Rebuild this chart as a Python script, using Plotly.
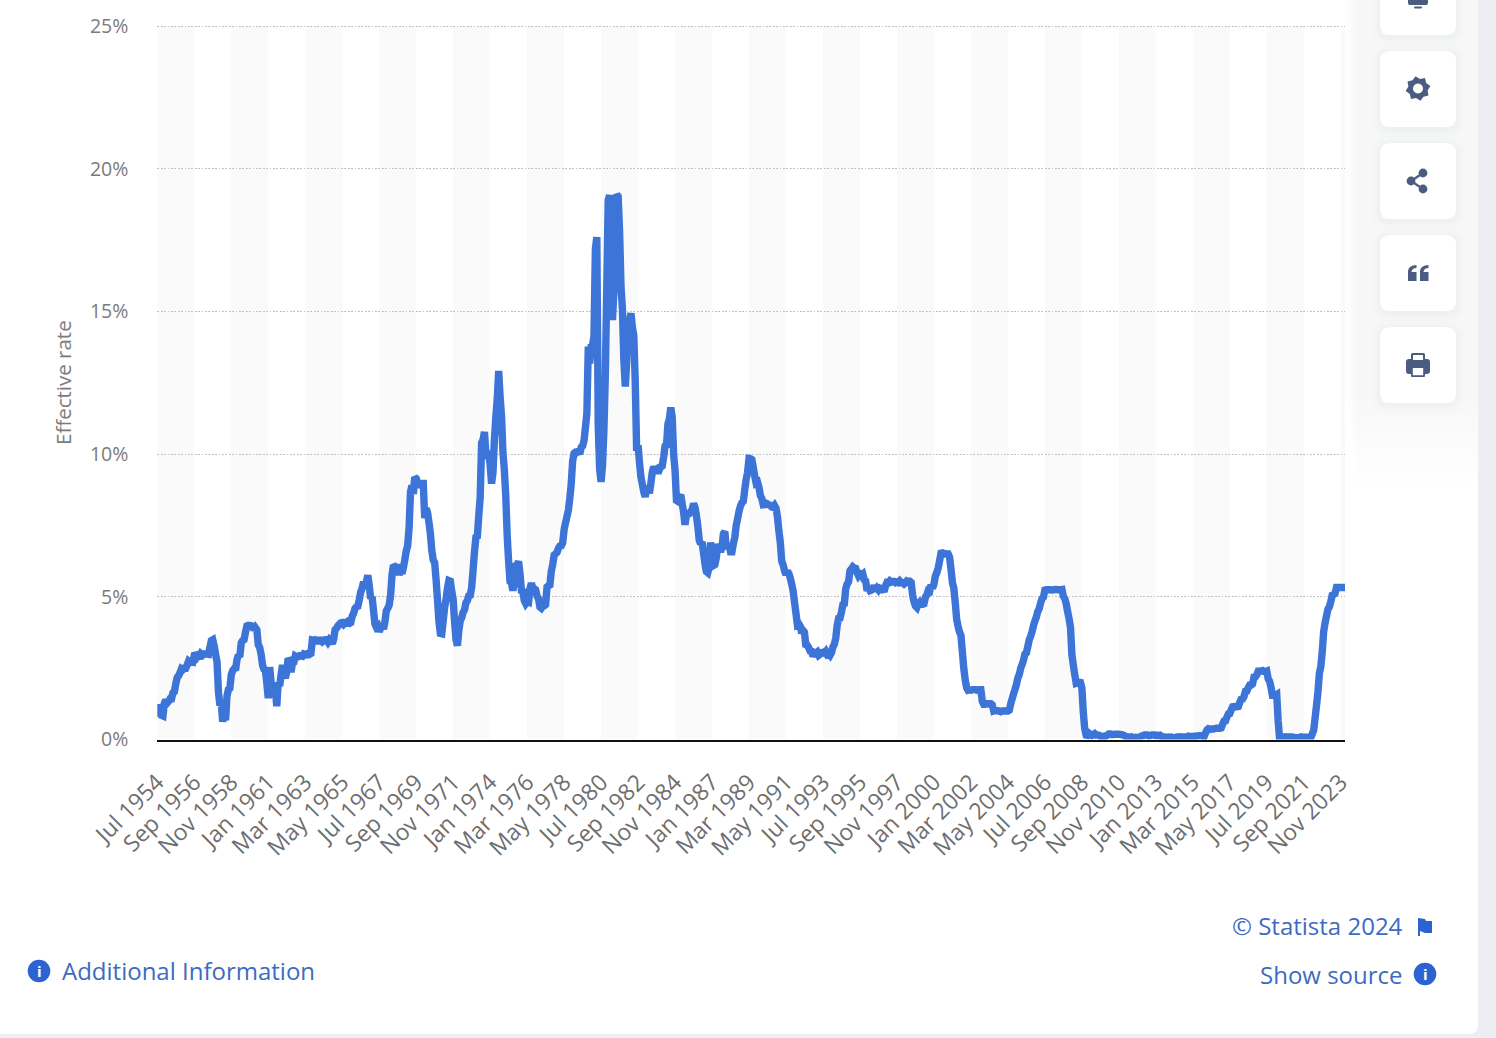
import math
import plotly.graph_objects as go

W = 1496
H = 1038

# monthly effective rate, Jul 1954 to Feb 2024
first_year = 1954
first_month = 6
month_names = ["Jan", "Feb", "Mar", "Apr", "May", "Jun", "Jul", "Aug", "Sep", "Oct", "Nov", "Dec"]
rates = [
    0.80, 1.22, 1.07, 0.85, 0.83, 1.28,
    1.39, 1.29, 1.35, 1.43, 1.43, 1.64, 1.68, 1.96, 2.18, 2.24, 2.35, 2.48,
    2.45, 2.50, 2.50, 2.62, 2.75, 2.71, 2.75, 2.73, 2.95, 2.96, 2.88, 2.94,
    2.84, 3.00, 2.96, 3.00, 3.00, 3.00, 2.99, 3.24, 3.47, 3.50, 3.28, 2.98,
    2.72, 1.67, 1.20, 1.26, 0.63, 0.93, 0.68, 1.53, 1.76, 1.80, 2.27, 2.42,
    2.48, 2.43, 2.80, 2.96, 2.90, 3.39, 3.47, 3.50, 3.76, 3.98, 4.00, 3.99,
    3.99, 3.97, 3.84, 3.92, 3.85, 3.32, 3.23, 2.98, 2.60, 2.47, 2.44, 1.98,
    1.45, 2.54, 2.02, 1.49, 1.98, 1.73, 1.17, 2.00, 1.88, 2.26, 2.61, 2.33,
    2.15, 2.37, 2.85, 2.78, 2.36, 2.68, 2.71, 2.93, 2.90, 2.90, 2.94, 2.93,
    2.92, 3.00, 2.98, 2.90, 3.00, 2.99, 3.02, 3.49, 3.48, 3.50, 3.48, 3.38,
    3.48, 3.48, 3.43, 3.47, 3.50, 3.50, 3.42, 3.50, 3.45, 3.36, 3.52, 3.85,
    3.90, 3.98, 4.04, 4.09, 4.10, 4.04, 4.09, 4.12, 4.01, 4.08, 4.10, 4.32,
    4.42, 4.60, 4.65, 4.67, 4.90, 5.17, 5.30, 5.53, 5.40, 5.53, 5.76, 5.40,
    4.94, 5.00, 4.53, 4.05, 3.94, 3.98, 3.79, 3.90, 3.99, 3.88, 4.12, 4.51,
    4.60, 4.71, 5.05, 5.76, 6.11, 6.07, 6.03, 6.03, 5.78, 5.91, 5.82, 6.02,
    6.30, 6.61, 6.79, 7.41, 8.67, 8.90, 8.61, 9.19, 9.15, 9.00, 8.85, 8.97,
    8.98, 8.98, 7.76, 8.10, 7.95, 7.61, 7.21, 6.62, 6.29, 6.20, 5.60, 4.90,
    4.14, 3.72, 3.71, 4.16, 4.63, 4.91, 5.31, 5.57, 5.55, 5.20, 4.91, 4.14,
    3.50, 3.29, 3.83, 4.17, 4.27, 4.46, 4.55, 4.80, 4.87, 5.04, 5.06, 5.33,
    5.94, 6.58, 7.09, 7.12, 7.84, 8.49, 10.40, 10.50, 10.78, 10.01, 10.03, 9.95,
    9.65, 8.97, 9.35, 10.51, 11.31, 11.93, 12.92, 12.01, 11.34, 10.06, 9.45, 8.53,
    7.13, 6.24, 5.54, 5.49, 5.22, 5.55, 6.10, 6.14, 6.24, 5.82, 5.22, 5.20,
    4.87, 4.77, 4.84, 4.82, 5.29, 5.48, 5.31, 5.29, 5.25, 5.02, 4.95, 4.65,
    4.61, 4.68, 4.69, 4.73, 5.35, 5.39, 5.42, 5.90, 6.14, 6.47, 6.51, 6.56,
    6.70, 6.78, 6.79, 6.89, 7.36, 7.60, 7.81, 8.04, 8.45, 8.96, 9.76, 10.03,
    10.07, 10.06, 10.09, 10.01, 10.24, 10.29, 10.47, 10.94, 11.43, 13.77, 13.18, 13.78,
    13.82, 14.13, 17.19, 17.61, 10.98, 9.47, 9.03, 9.61, 10.87, 12.81, 15.85, 18.90,
    19.08, 16.57, 14.70, 15.72, 18.52, 19.10, 19.04, 17.82, 15.87, 15.08, 13.31, 12.37,
    13.22, 14.78, 14.68, 14.94, 14.45, 14.15, 12.59, 10.12, 10.31, 9.71, 9.20, 8.95,
    8.68, 8.51, 8.77, 8.80, 8.63, 8.98, 9.37, 9.56, 9.45, 9.48, 9.34, 9.47,
    9.56, 9.59, 9.91, 10.29, 10.32, 11.06, 11.23, 11.64, 11.30, 9.99, 9.43, 8.38,
    8.35, 8.50, 8.58, 8.27, 7.97, 7.53, 7.88, 7.90, 7.92, 7.99, 8.05, 8.27,
    8.14, 7.86, 7.48, 6.99, 6.85, 6.92, 6.56, 6.17, 5.89, 5.85, 6.04, 6.91,
    6.43, 6.10, 6.13, 6.37, 6.85, 6.73, 6.58, 6.73, 7.22, 7.29, 6.69, 6.77,
    6.83, 6.58, 6.58, 6.87, 7.09, 7.51, 7.75, 8.01, 8.19, 8.30, 8.35, 8.76,
    9.12, 9.36, 9.85, 9.84, 9.81, 9.53, 9.24, 8.99, 9.02, 8.84, 8.55, 8.45,
    8.23, 8.24, 8.28, 8.26, 8.18, 8.29, 8.15, 8.13, 8.20, 8.11, 7.81, 7.31,
    6.91, 6.25, 6.12, 5.91, 5.78, 5.90, 5.82, 5.66, 5.45, 5.21, 4.81, 4.43,
    4.03, 4.06, 3.98, 3.73, 3.82, 3.76, 3.25, 3.30, 3.22, 3.10, 3.09, 2.92,
    3.02, 3.03, 3.07, 2.96, 3.00, 3.04, 3.06, 3.03, 3.09, 2.99, 3.02, 2.96,
    3.05, 3.25, 3.34, 3.56, 4.01, 4.25, 4.26, 4.47, 4.73, 4.76, 5.29, 5.45,
    5.53, 5.92, 5.98, 6.05, 6.01, 6.00, 5.85, 5.74, 5.80, 5.76, 5.80, 5.60,
    5.56, 5.22, 5.31, 5.22, 5.24, 5.27, 5.40, 5.22, 5.30, 5.24, 5.31, 5.29,
    5.25, 5.19, 5.39, 5.51, 5.50, 5.56, 5.52, 5.54, 5.54, 5.50, 5.52, 5.50,
    5.56, 5.51, 5.49, 5.45, 5.49, 5.56, 5.54, 5.55, 5.51, 5.07, 4.83, 4.68,
    4.63, 4.76, 4.81, 4.74, 4.74, 4.76, 4.99, 5.07, 5.22, 5.20, 5.42, 5.30,
    5.45, 5.73, 5.85, 6.02, 6.27, 6.53, 6.54, 6.50, 6.52, 6.51, 6.51, 6.40,
    5.98, 5.49, 5.31, 4.80, 4.21, 3.97, 3.77, 3.65, 3.07, 2.49, 2.09, 1.82,
    1.73, 1.74, 1.73, 1.75, 1.75, 1.75, 1.73, 1.74, 1.75, 1.75, 1.34, 1.24,
    1.24, 1.26, 1.25, 1.26, 1.26, 1.22, 1.01, 1.03, 1.01, 1.01, 1.00, 0.98,
    1.00, 1.01, 1.00, 1.00, 1.00, 1.03, 1.26, 1.43, 1.61, 1.76, 1.93, 2.16,
    2.28, 2.50, 2.63, 2.79, 3.00, 3.04, 3.26, 3.50, 3.62, 3.78, 4.00, 4.16,
    4.29, 4.49, 4.59, 4.79, 4.94, 4.99, 5.24, 5.25, 5.25, 5.25, 5.25, 5.24,
    5.25, 5.26, 5.26, 5.25, 5.25, 5.25, 5.26, 5.02, 4.94, 4.76, 4.49, 4.24,
    3.94, 2.98, 2.61, 2.28, 1.98, 2.00, 2.01, 2.00, 1.81, 0.97, 0.39, 0.16,
    0.15, 0.22, 0.18, 0.15, 0.18, 0.21, 0.16, 0.16, 0.15, 0.12, 0.12, 0.12,
    0.11, 0.13, 0.16, 0.20, 0.20, 0.18, 0.18, 0.19, 0.19, 0.19, 0.19, 0.18,
    0.17, 0.16, 0.14, 0.10, 0.09, 0.09, 0.07, 0.10, 0.08, 0.07, 0.08, 0.07,
    0.08, 0.10, 0.13, 0.14, 0.16, 0.16, 0.16, 0.13, 0.14, 0.16, 0.16, 0.16,
    0.14, 0.15, 0.14, 0.15, 0.11, 0.09, 0.09, 0.08, 0.08, 0.09, 0.08, 0.09,
    0.07, 0.07, 0.08, 0.09, 0.09, 0.10, 0.09, 0.09, 0.09, 0.09, 0.09, 0.12,
    0.11, 0.11, 0.11, 0.12, 0.12, 0.13, 0.13, 0.14, 0.14, 0.12, 0.12, 0.24,
    0.34, 0.38, 0.36, 0.37, 0.37, 0.38, 0.39, 0.40, 0.40, 0.40, 0.41, 0.54,
    0.65, 0.66, 0.79, 0.90, 0.91, 1.04, 1.15, 1.16, 1.15, 1.15, 1.16, 1.30,
    1.41, 1.42, 1.51, 1.69, 1.70, 1.82, 1.91, 1.91, 1.95, 2.19, 2.20, 2.27,
    2.40, 2.40, 2.41, 2.42, 2.39, 2.38, 2.40, 2.13, 2.04, 1.83, 1.55, 1.55,
    1.55, 1.58, 0.65, 0.05, 0.05, 0.08, 0.09, 0.10, 0.09, 0.09, 0.09, 0.09,
    0.09, 0.08, 0.07, 0.07, 0.06, 0.08, 0.10, 0.09, 0.08, 0.08, 0.08, 0.08,
    0.08, 0.08, 0.20, 0.33, 0.77, 1.21, 1.68, 2.33, 2.56, 3.08, 3.78, 4.10,
    4.33, 4.57, 4.65, 4.83, 5.06, 5.08, 5.12, 5.33, 5.33, 5.33, 5.33, 5.33,
    5.33, 5.33,
]
y_ticks = [0, 5, 10, 15, 20, 25]
y_labels = ["0%", "5%", "10%", "15%", "20%", "25%"]
x_labels = [
    "Jul 1954", "Sep 1956", "Nov 1958", "Jan 1961", "Mar 1963", "May 1965", "Jul 1967", "Sep 1969",
    "Nov 1971", "Jan 1974", "Mar 1976", "May 1978", "Jul 1980", "Sep 1982", "Nov 1984", "Jan 1987",
    "Mar 1989", "May 1991", "Jul 1993", "Sep 1995", "Nov 1997", "Jan 2000", "Mar 2002", "May 2004",
    "Jul 2006", "Sep 2008", "Nov 2010", "Jan 2013", "Mar 2015", "May 2017", "Jul 2019", "Sep 2021",
    "Nov 2023",
]

months = []
for i in range(len(rates)):
    m = first_month + i
    months.append(month_names[m % 12] + " " + str(first_year + m // 12))


# page decoration is laid out in screen pixels
def px(x):
    return x / W


def py(y):
    return 1 - y / H


def path(points):
    out = []
    for p in points:
        if len(p) == 1:
            out.append(p[0])
        elif len(p) == 3:
            out.append(p[0] + " " + str(px(p[1])) + " " + str(py(p[2])))
        else:
            out.append("Q " + str(px(p[1])) + " " + str(py(p[2])) + " " + str(px(p[3])) + " " + str(py(p[4])))
    return " ".join(out)


def round_rect(x0, y0, x1, y1, r):
    return path([
        ("M", x0 + r, y0), ("L", x1 - r, y0), ("Q", x1, y0, x1, y0 + r),
        ("L", x1, y1 - r), ("Q", x1, y1, x1 - r, y1), ("L", x0 + r, y1),
        ("Q", x0, y1, x0, y1 - r), ("L", x0, y0 + r), ("Q", x0, y0, x0 + r, y0), ("Z",),
    ])


def paper_shape(d, color):
    return dict(type="path", xref="paper", yref="paper", path=d, fillcolor=color, line_width=0, layer="below")


def circle(cx, cy, r, color, layer="below"):
    return dict(type="circle", xref="paper", yref="paper", x0=px(cx - r), x1=px(cx + r), y0=py(cy + r), y1=py(cy - r),
                fillcolor=color, line_width=0, layer=layer)


ICON = "#4a5d80"
BLUE = "#2b63d3"
TEXT_BLUE = "#3c6bbf"

shapes = []
# page behind the card, then the card
shapes.append(dict(type="rect", xref="paper", yref="paper", x0=0, x1=1, y0=0, y1=1, fillcolor="#eceef3", line_width=0, layer="below"))
shapes.append(paper_shape(round_rect(-20, -20, 1478, 1034, 9), "#ffffff"))

# faint tint behind the button column, fading out downwards
for k in range(8):
    shapes.append(dict(type="rect", xref="paper", yref="paper", x0=px(1346 + k * 1.5), x1=px(1478), y0=py(400 + k * 12), y1=1,
                       fillcolor="rgba(215,220,235,0.035)", line_width=0, layer="below"))

# side buttons with a soft shadow
for top, bottom in [(-41, 35), (51, 127), (143, 219), (235, 311), (327, 403)]:
    for grow, shade in [(9, "rgba(120,130,160,0.012)"), (6, "rgba(120,130,160,0.016)"), (3, "rgba(120,130,160,0.022)")]:
        shapes.append(paper_shape(round_rect(1380 - grow, top - grow + 2, 1456 + grow, bottom + grow + 2, 10 + grow), shade))
    shapes.append(paper_shape(round_rect(1380, top, 1456, bottom, 10), "#ffffff"))

# monitor icon, cut by the top of the window
shapes.append(paper_shape(round_rect(1408, -12, 1428, 5, 2), ICON))
shapes.append(paper_shape(round_rect(1414, 6.5, 1422, 8.5, 1), ICON))

# gear
gear = []
for k in range(16):
    a = k * math.pi / 8 - math.pi / 16
    rad = 12.6 if k % 2 == 0 else 9.8
    gear.append(("M" if k == 0 else "L", 1418 + rad * math.cos(a), 88.5 + rad * math.sin(a)))
gear.append(("Z",))
hole = []
for k in range(24):
    a = k * math.pi / 12
    hole.append(("M" if k == 0 else "L", 1418 + 5 * math.cos(a), 88.5 + 5 * math.sin(a)))
hole.append(("Z",))
shapes.append(paper_shape(path(gear + hole), ICON))

# share
shapes.append(dict(type="path", xref="paper", yref="paper", layer="below", line=dict(color=ICON, width=2.2),
                   path=path([("M", 1423, 173), ("L", 1411, 181), ("L", 1423, 189)])))
shapes.append(circle(1423, 173, 4.4, ICON))
shapes.append(circle(1411, 181, 4.4, ICON))
shapes.append(circle(1423, 189, 4.4, ICON))

# quote marks
for qx in [1408, 1420]:
    shapes.append(paper_shape(path([
        ("M", qx + 8.5, 265), ("L", qx + 8.5, 268), ("Q", qx + 4, 268, qx + 3.5, 272), ("L", qx + 8.5, 272),
        ("L", qx + 8.5, 281), ("L", qx, 281), ("L", qx, 271), ("Q", qx + 0.5, 265.5, qx + 8.5, 265), ("Z",),
    ]), ICON))

# printer
shapes.append(paper_shape(round_rect(1406, 359, 1430, 374, 3), ICON))
shapes.append(paper_shape(round_rect(1411, 353, 1425, 361, 1.5), ICON))
shapes.append(paper_shape(round_rect(1413, 355, 1423, 360, 0.5), "#ffffff"))
shapes.append(paper_shape(round_rect(1411, 367, 1425, 377, 1), ICON))
shapes.append(paper_shape(round_rect(1412.8, 368, 1423.2, 375.2, 0.5), "#ffffff"))

# info circles and flag
shapes.append(circle(39, 971, 11.3, BLUE))
shapes.append(circle(1425, 974, 11.3, BLUE))
shapes.append(paper_shape(path([("M", 1418, 918), ("L", 1425, 919), ("L", 1426, 921), ("L", 1432, 921),
                                ("L", 1432, 933), ("L", 1425, 933), ("L", 1420, 931), ("L", 1420, 936),
                                ("L", 1418, 936), ("Z",)]), BLUE))

# alternating bands, one per labelled tick
tick_idx = [months.index(t) for t in x_labels]
band_edges = tick_idx + [len(months) - 1]
for i in range(0, len(band_edges) - 1, 2):
    shapes.append(dict(type="rect", xref="x", yref="y", x0=months[band_edges[i]], x1=months[band_edges[i + 1]],
                       y0=0, y1=25, fillcolor="#fafafb", line_width=0, layer="below"))

fig = go.Figure()
# simplify off, otherwise plotly drops the small monthly steps
fig.add_trace(go.Scatter(x=months, y=rates, mode="lines", line=dict(color="#3c74d8", width=7.4, simplify=False),
                         hoverinfo="x+y", showlegend=False))


def note(text, x, y, anchor="left", size=24, color=TEXT_BLUE, **kw):
    return dict(text=text, x=px(x), y=py(y), xref="paper", yref="paper", xanchor=anchor, yanchor="middle", showarrow=False,
                font=dict(family="Open Sans", size=size, color=color), **kw)


# a hair above 25 so that plotly keeps the top gridline
y_top = 25.04
zero_px = 739.6
top_px = zero_px - (zero_px - 26.2) / 25 * y_top

fig.update_layout(
    width=W,
    height=H,
    autosize=False,
    margin=dict(l=0, r=0, t=0, b=0, pad=0),
    paper_bgcolor="#ffffff",
    plot_bgcolor="rgba(0,0,0,0)",
    showlegend=False,
    font=dict(family="Open Sans", color="#7b7b7b"),
    shapes=shapes,
    annotations=[
        note("Effective rate", 63, 383, anchor="center", size=20.5, color="#7b7b7b", textangle=-90),
        note("Additional Information", 60, 970),
        note("© Statista 2024", 1405, 925, anchor="right"),
        note("Show source", 1405, 974, anchor="right"),
        note("<b>i</b>", 39, 971, anchor="center", size=15, color="#ffffff"),
        note("<b>i</b>", 1425, 974, anchor="center", size=15, color="#ffffff"),
    ],
)
fig.update_xaxes(
    domain=[px(157.3), px(1345)],
    type="category",
    range=[0, len(months) - 1],
    tickmode="array",
    tickvals=x_labels,
    ticktext=x_labels,
    tickangle=-45,
    tickfont=dict(family="Open Sans", size=23, color="#6e6e6e"),
    ticks="outside",
    ticklen=18,
    tickcolor="rgba(0,0,0,0)",
    showgrid=False,
    showline=True,
    linecolor="#111111",
    linewidth=2,
    zeroline=False,
    automargin=False,
)
fig.update_yaxes(
    domain=[py(zero_px), py(top_px)],
    range=[0, y_top],
    tickmode="array",
    tickvals=y_ticks,
    ticktext=y_labels,
    tickfont=dict(family="Open Sans", size=19.5, color="#7b7b7b"),
    ticks="outside",
    ticklen=24,
    tickcolor="rgba(0,0,0,0)",
    showgrid=True,
    gridcolor="#c2c2c2",
    gridwidth=1.4,
    griddash="1.8px,1.6px",
    showline=False,
    zeroline=False,
    automargin=False,
)

fig.write_html("out.html", post_script="document.body.style.margin='0';", config=dict(displayModeBar=False))
